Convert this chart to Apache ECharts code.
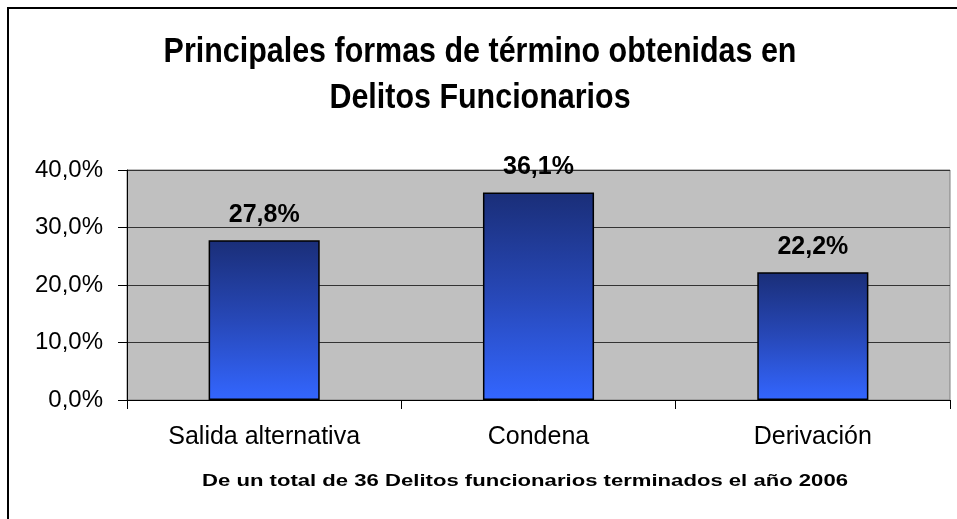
<!DOCTYPE html>
<html>
<head>
<meta charset="utf-8">
<script src="https://cdn.jsdelivr.net/npm/echarts@6/dist/echarts.min.js"></script>
<style>
  html, body { margin: 0; padding: 0; background: #fff; }
  #chart { width: 957px; height: 519px; }
</style>
</head>
<body>
<div id="chart"></div>
<script>
// datos
var categories = ['Salida alternativa', 'Condena', 'Derivación'];
var values = [27.8, 36.1, 22.2];
var yTicks = [0, 10, 20, 30, 40];

var titleText = 'Principales formas de término obtenidas en\nDelitos Funcionarios';
var noteText = 'De un total de 36 Delitos funcionarios terminados el año 2006';

var fmt = function (v, d) {
  return v.toFixed(d).replace('.', ',') + '%';
};

var chart = echarts.init(document.getElementById('chart'));
chart.setOption({
  backgroundColor: '#fff',
  graphic: [
    // borde exterior (solo arriba e izquierda visibles)
    {
      type: 'rect',
      shape: { x: 8, y: 8, width: 1000, height: 600 },
      style: { fill: 'none', stroke: '#000', lineWidth: 2 },
      z: 100
    },
    // titulo, un poco angosto como el original
    {
      type: 'text',
      x: 480,
      y: 75,
      scaleX: 0.87,
      style: {
        text: titleText,
        font: 'bold 35px "Liberation Sans", Arial, sans-serif',
        lineHeight: 46,
        fill: '#000',
        align: 'center',
        verticalAlign: 'middle'
      }
    },
    // nota al pie, espaciada
    {
      type: 'text',
      x: 525,
      y: 481,
      scaleX: 1.3,
      style: {
        text: noteText,
        font: 'bold 17px "Liberation Sans", Arial, sans-serif',
        fill: '#000',
        align: 'center',
        verticalAlign: 'middle'
      }
    }
  ],
  grid: {
    left: 127,
    right: 7,
    top: 170,
    bottom: 119,
    show: true,
    backgroundColor: '#c0c0c0',
    borderColor: '#808080',
    borderWidth: 1
  },
  xAxis: {
    type: 'category',
    data: categories,
    axisLine: { show: true, lineStyle: { color: '#000', width: 1 } },
    axisTick: { show: true, length: 9, lineStyle: { color: '#000' } },
    axisLabel: {
      margin: 25,
      fontFamily: '"Liberation Sans", Arial, sans-serif',
      fontSize: 25,
      color: '#000'
    }
  },
  yAxis: {
    type: 'value',
    min: yTicks[0],
    max: yTicks[yTicks.length - 1],
    interval: 10,
    axisLine: { show: true, lineStyle: { color: '#000', width: 1 } },
    axisTick: { show: true, length: 9, lineStyle: { color: '#000' } },
    splitLine: { show: true, lineStyle: { color: '#333', width: 1 } },
    axisLabel: {
      margin: 24,
      fontFamily: '"Liberation Sans", Arial, sans-serif',
      fontSize: 24,
      color: '#000',
      formatter: function (v) { return fmt(v, 1); }
    }
  },
  series: [
    {
      type: 'bar',
      data: values,
      barWidth: '40.5%',
      itemStyle: {
        borderColor: '#000',
        borderWidth: 1.5,
        color: {
          type: 'linear',
          x: 0, y: 0, x2: 0, y2: 1,
          colorStops: [
            { offset: 0, color: '#1a2e78' },
            { offset: 0.5, color: '#2748b8' },
            { offset: 1, color: '#3366ff' }
          ]
        }
      },
      label: {
        show: true,
        position: 'top',
        distance: 13,
        fontFamily: '"Liberation Sans", Arial, sans-serif',
        fontWeight: 'bold',
        fontSize: 25,
        color: '#000',
        formatter: function (p) { return fmt(p.value, 1); }
      }
    }
  ]
});
</script>
</body>
</html>
